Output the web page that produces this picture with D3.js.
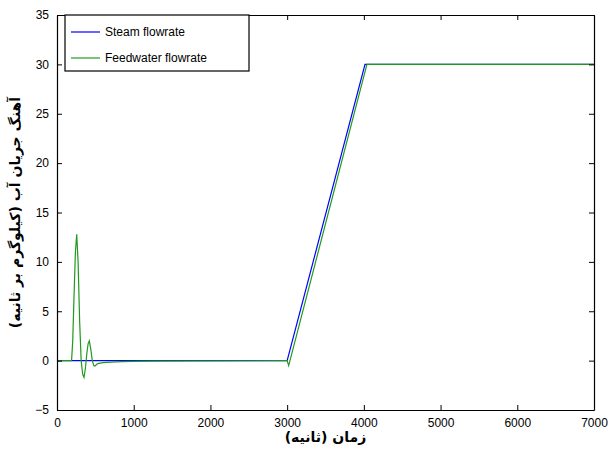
<!DOCTYPE html>
<html><head><meta charset="utf-8">
<script src="https://cdn.jsdelivr.net/npm/d3@7"></script>
<style>body{margin:0;background:#fff}svg{display:block}</style>
</head><body>
<script>
const xTicks = [0,1000,2000,3000,4000,5000,6000,7000];
const yTicks = [-5,0,5,10,15,20,25,30,35];
const steamT = [0, 3000, 4015, 7000];
const steamV = [0, 0, 30, 30];
const feedT = [0, 190, 205, 220, 240, 257, 275, 295, 315, 335, 352, 370, 390, 405, 421, 440, 460, 480, 495, 530, 600, 700, 850, 1000, 1250, 3000, 3020, 4040, 7000];
const feedV = [0, 0, 2, 6, 11, 12.8, 10, 4, 0, -1.4, -1.7, -0.8, 0.8, 1.7, 2, 1.2, 0, -0.5, -0.55, -0.3, -0.2, -0.15, -0.1, -0.08, -0.05, 0, -0.5, 30, 30];
const seriesNames = ["Steam flowrate", "Feedwater flowrate"];
const xTitle = "زمان (ثانیه)";
const yTitle = "آهنگ جریان آب (کیلوگرم بر ثانیه)";

const W = 609, H = 459;
const m = {l:57, r:594, t:15, b:410};
const svg = d3.select("body").append("svg").attr("width", W).attr("height", H);
const x = d3.scaleLinear().domain([0,7000]).range([m.l, m.r]);
const y = d3.scaleLinear().domain([-5,35]).range([m.b, m.t]);
const font = "Arial, 'Liberation Sans', sans-serif";

const line = d3.line().x(d=>x(d[0])).y(d=>y(d[1]));
const steam = steamT.map((t,i)=>[t, steamV[i]]);
const feed = feedT.map((t,i)=>[t, feedV[i]]);
svg.append("path").attr("d", line(steam)).attr("fill","none").attr("stroke","#0000ff").attr("stroke-width",1.2);
svg.append("path").attr("d", line(feed)).attr("fill","none").attr("stroke","#1f9a1f").attr("stroke-width",1.2);

const fmt = d3.format("d");
const axB = svg.append("g").attr("transform",`translate(0,${m.b})`)
  .call(d3.axisBottom(x).tickValues(xTicks).tickFormat(fmt).tickSizeInner(-5).tickSizeOuter(0).tickPadding(8));
const axL = svg.append("g").attr("transform",`translate(${m.l},0)`)
  .call(d3.axisLeft(y).tickValues(yTicks).tickFormat(fmt).tickSizeInner(-5).tickSizeOuter(0).tickPadding(8));
const axT = svg.append("g").attr("transform",`translate(0,${m.t})`)
  .call(d3.axisTop(x).tickValues(xTicks).tickSizeInner(-5).tickSizeOuter(0).tickFormat(""));
const axR = svg.append("g").attr("transform",`translate(${m.r},0)`)
  .call(d3.axisRight(y).tickValues(yTicks).tickSizeInner(-5).tickSizeOuter(0).tickFormat(""));
[axB,axL,axT,axR].forEach(a=>{
  a.selectAll("text").attr("font-family",font).attr("font-size",12).attr("fill","#000");
  a.selectAll("line").attr("stroke","#000");
  a.select(".domain").attr("stroke","#000").attr("stroke-width",1.2);
});

svg.append("text").attr("x",(m.l+m.r)/2).attr("y",442).attr("text-anchor","middle")
  .attr("font-family","'DejaVu Sans', 'Noto Sans', sans-serif").attr("font-weight","bold").attr("font-size",14)
  .attr("direction","rtl").text(xTitle);
svg.append("text").attr("transform",`translate(20,${(m.t+m.b)/2}) rotate(-90)`).attr("text-anchor","middle")
  .attr("font-family","'DejaVu Sans', 'Noto Sans', sans-serif").attr("font-weight","bold").attr("font-size",14)
  .attr("direction","rtl").text(yTitle);

const lg = svg.append("g");
lg.append("rect").attr("x",65).attr("y",m.t).attr("width",184).attr("height",56)
  .attr("fill","#fff").attr("stroke","#000").attr("stroke-width",1.2);
const colors = ["#0000ff","#1f9a1f"];
seriesNames.forEach((n,i)=>{
  const yy = 32 + i*26;
  lg.append("line").attr("x1",71).attr("x2",100).attr("y1",yy).attr("y2",yy).attr("stroke",colors[i]).attr("stroke-width",1.2);
  lg.append("text").attr("x",105).attr("y",yy+4).attr("font-family",font).attr("font-size",12).text(n);
});
</script>
</body></html>
